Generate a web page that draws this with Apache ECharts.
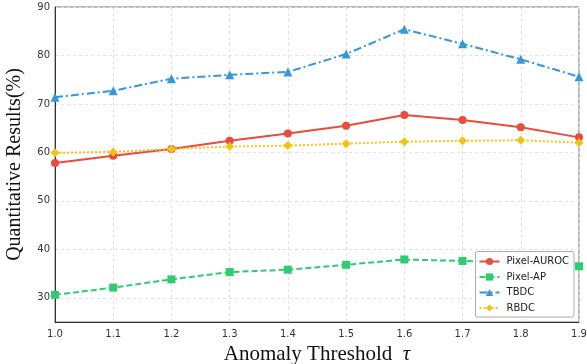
<!DOCTYPE html>
<html>
<head>
<meta charset="utf-8">
<script src="https://cdn.jsdelivr.net/npm/echarts@6/dist/echarts.min.js"></script>
<style>
html, body { margin: 0; padding: 0; background: #fff; }
#chart { width: 587px; height: 364px; }
</style>
</head>
<body>
<div id="chart"></div>
<script>
var thresholds = ['1.0', '1.1', '1.2', '1.3', '1.4', '1.5', '1.6', '1.7', '1.8', '1.9'];
var pixelAuroc = [57.8, 59.3, 60.7, 62.4, 63.9, 65.5, 67.7, 66.7, 65.2, 63.1];
var pixelAp = [30.6, 32.1, 33.8, 35.3, 35.8, 36.8, 37.9, 37.6, 37.1, 36.5];
var tbdc = [71.4, 72.7, 75.2, 76.0, 76.6, 80.3, 85.4, 82.4, 79.2, 75.6];
var rbdc = [59.9, 60.1, 60.7, 61.2, 61.4, 61.8, 62.2, 62.4, 62.5, 62.0];

var myChart = echarts.init(document.getElementById('chart'));

function lineSeries(name, data, color, symbol, dash, size) {
  return {
    name: name,
    type: 'line',
    data: data,
    symbol: symbol,
    symbolSize: size,
    itemStyle: { color: color },
    lineStyle: { color: color, width: 2, type: dash },
    emphasis: { disabled: true }
  };
}

var option = {
  animation: false,
  backgroundColor: '#fff',
  grid: {
    left: 55, right: 8, top: 7, bottom: 42,
    outerBoundsMode: 'none',
    containLabel: false,
    show: true, borderColor: '#777', borderWidth: 1
  },
  legend: {
    orient: 'vertical',
    right: 13,
    bottom: 47,
    itemWidth: 20,
    itemHeight: 9,
    itemGap: 5.5,
    padding: [5, 5, 4, 3],
    borderColor: '#aaa',
    borderWidth: 1,
    borderRadius: 2,
    backgroundColor: 'rgba(255,255,255,0.9)',
    textStyle: { fontFamily: 'DejaVu Sans', fontSize: 10, color: '#222', padding: [0, 0, 0, 2] },
    data: ['Pixel-AUROC', 'Pixel-AP', 'TBDC', 'RBDC']
  },
  xAxis: {
    type: 'category',
    data: thresholds,
    boundaryGap: false,
    name: 'Anomaly Threshold  {t|τ}',
    nameLocation: 'middle',
    nameGap: 20,
    nameTextStyle: {
      fontFamily: 'Liberation Serif', fontSize: 21, color: '#111',
      rich: { t: { fontFamily: 'Liberation Serif', fontStyle: 'italic', fontSize: 21, color: '#111' } }
    },
    axisLine: { lineStyle: { color: '#333', width: 1 } },
    axisTick: { show: false },
    axisLabel: { fontFamily: 'DejaVu Sans', fontSize: 10, color: '#333', margin: 7 },
    splitLine: { show: true, lineStyle: { color: '#e2e2e2', type: [3, 3], width: 1 } }
  },
  yAxis: {
    type: 'value',
    min: 25,
    max: 90,
    interval: 5,
    name: 'Quantitative Results(%)',
    nameLocation: 'middle',
    nameGap: 30,
    nameTextStyle: { fontFamily: 'Liberation Serif', fontSize: 20, color: '#111' },
    axisLine: { show: true, lineStyle: { color: '#333', width: 1 } },
    axisTick: { show: false },
    axisLabel: {
      fontFamily: 'DejaVu Sans', fontSize: 10, color: '#333', margin: 5,
      formatter: function (v) { return v % 10 === 0 ? String(v) : ''; }
    },
    splitLine: { show: true, lineStyle: { color: ['transparent', '#e2e2e2'], type: [3, 3], width: 1 } }
  },
  series: [
    lineSeries('Pixel-AUROC', pixelAuroc, '#e74c3c', 'circle', 'solid', 8),
    lineSeries('Pixel-AP', pixelAp, '#2ecc71', 'rect', [6, 3], 8),
    lineSeries('TBDC', tbdc, '#3498db', 'triangle', [8, 3, 2, 3], 9),
    lineSeries('RBDC', rbdc, '#f1c40f', 'diamond', [2, 2], 9)
  ]
};
myChart.setOption(option);
</script>
</body>
</html>
